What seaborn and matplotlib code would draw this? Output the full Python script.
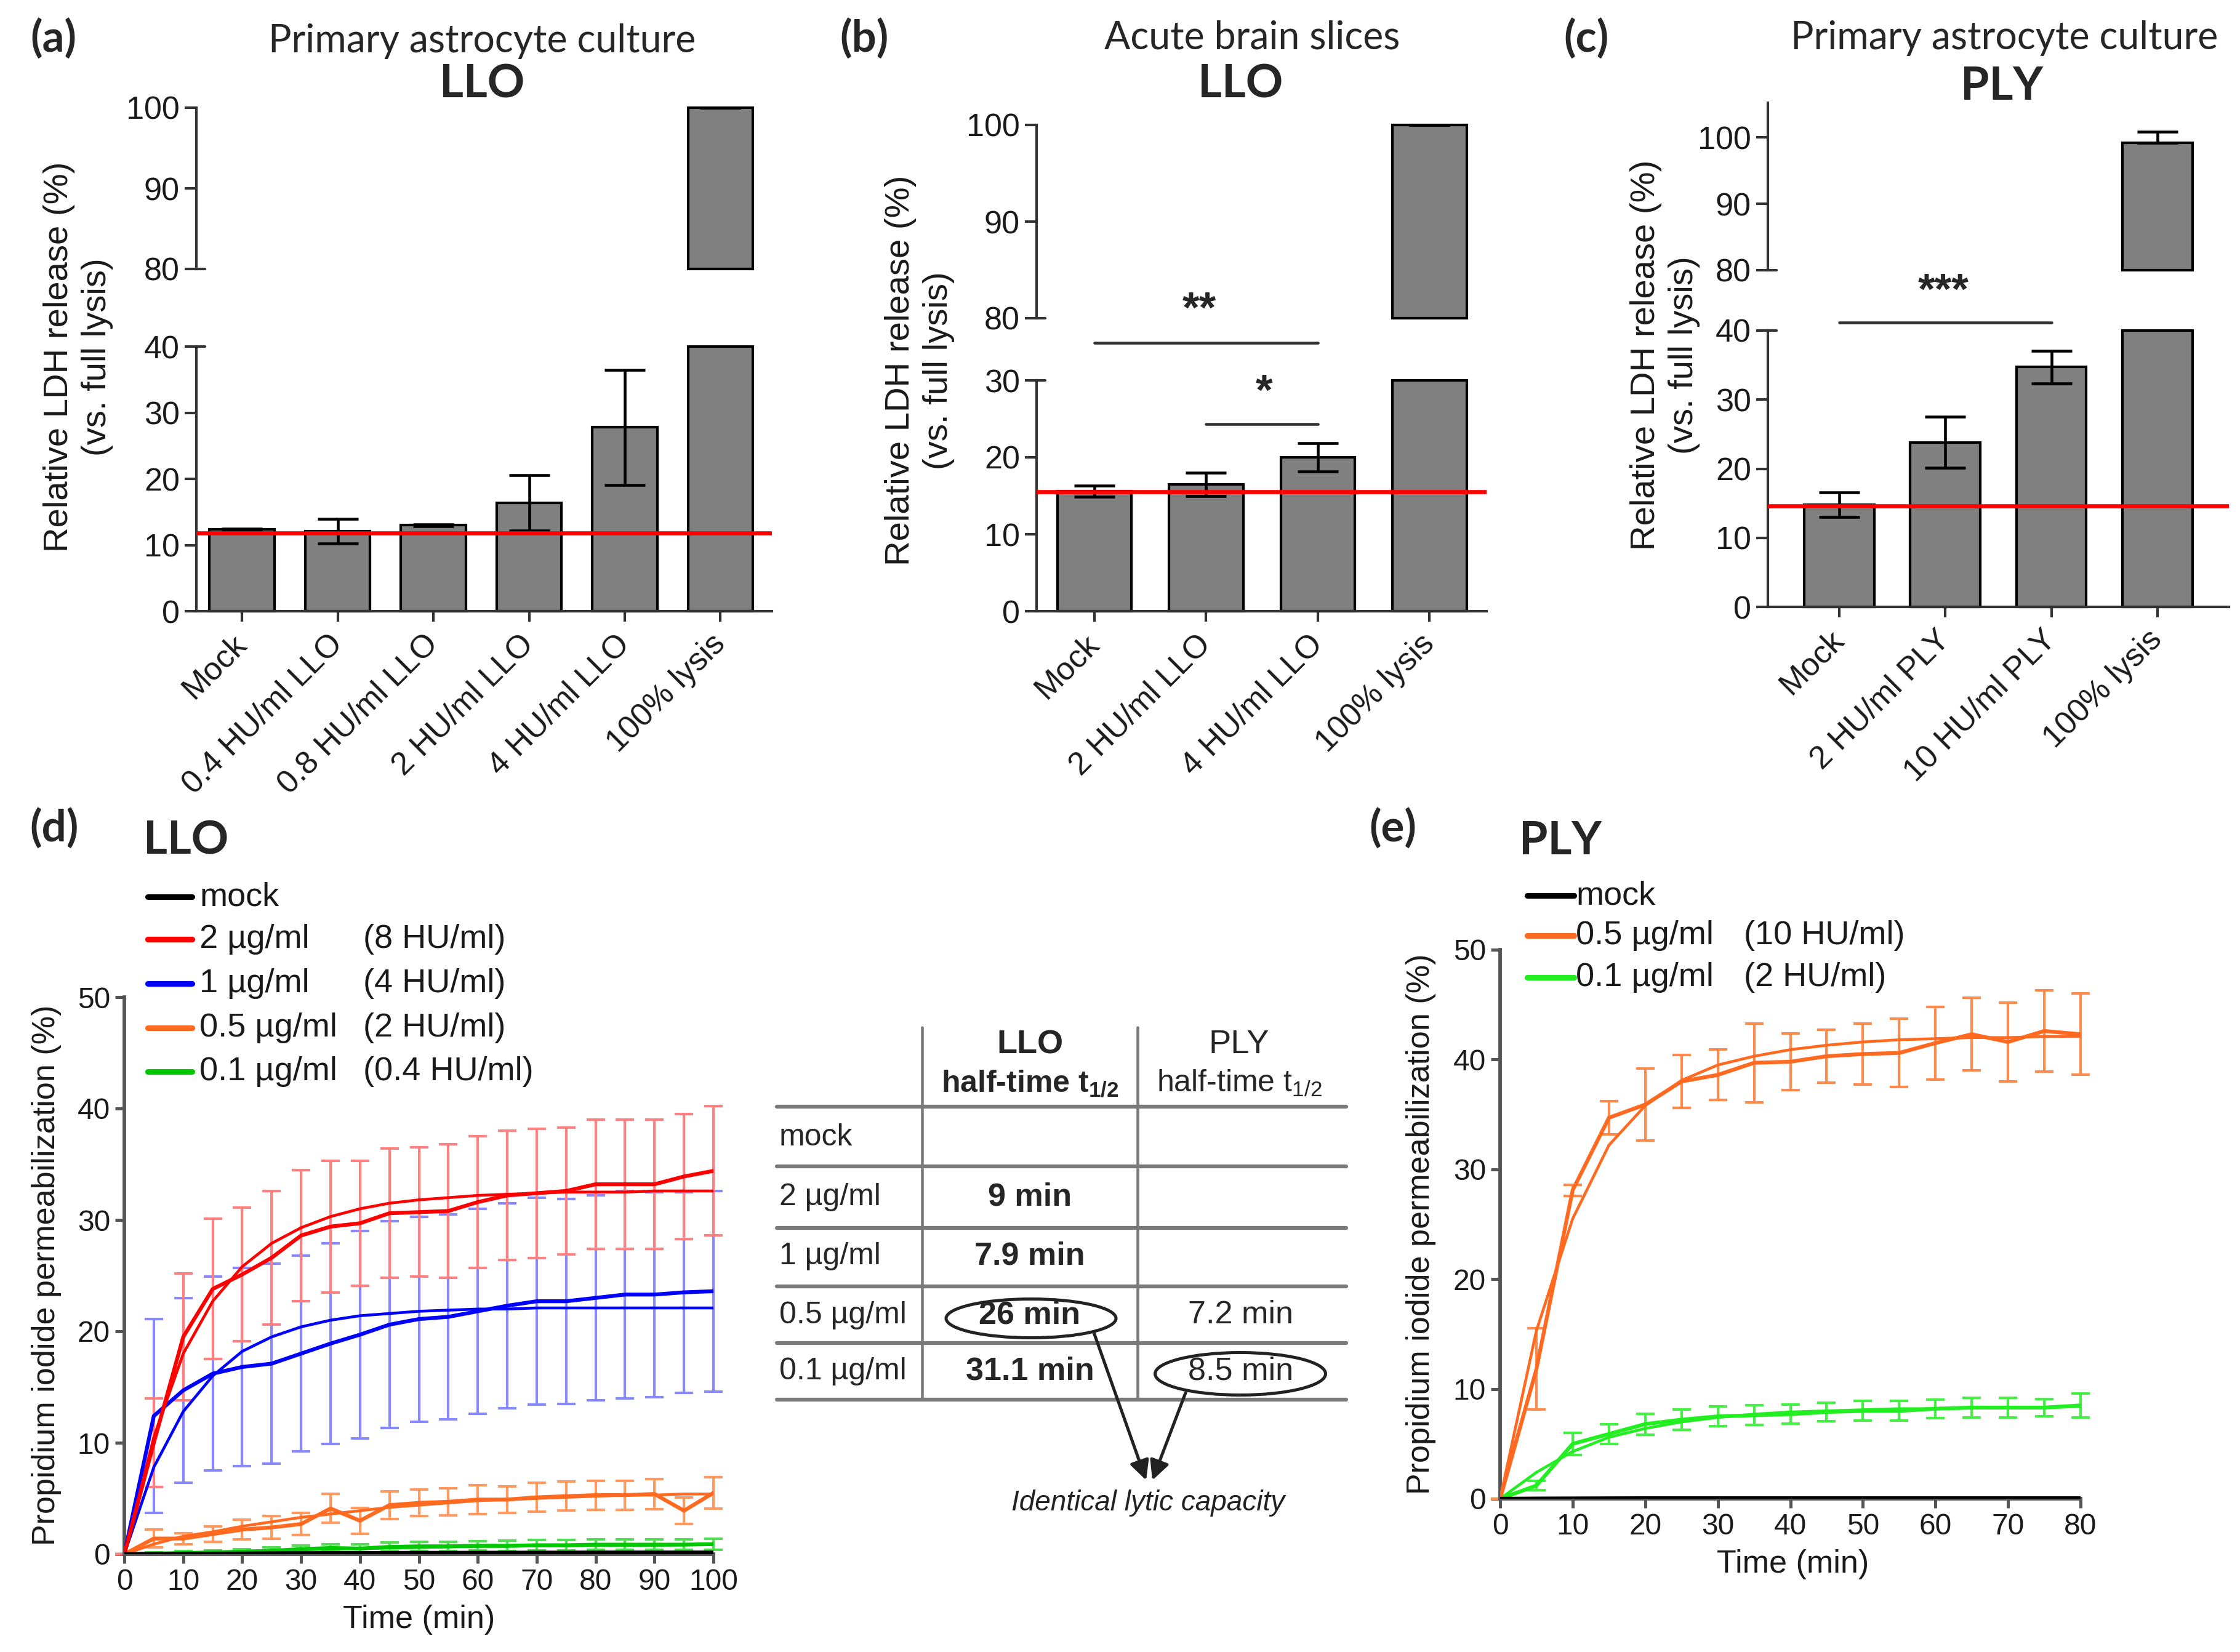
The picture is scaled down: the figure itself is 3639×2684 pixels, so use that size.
import pandas as pd
import matplotlib.pyplot as plt
import seaborn as sns
from matplotlib.lines import Line2D
from matplotlib.patches import Ellipse

W, H = 3639, 2684

# ---------------- data: LDH release (panels a-c) ----------------
a_cats = ['Mock', '0.4 HU/ml LLO', '0.8 HU/ml LLO', '2 HU/ml LLO', '4 HU/ml LLO', '100% lysis']
a_vals = [12.4, 12.1, 13.0, 16.4, 27.8, 100.0]
a_err_lo = [0.1, 1.9, 0.15, 4.2, 8.7, 0.0]
a_err_hi = [0.1, 1.9, 0.15, 4.2, 8.7, 0.0]
a_base = 11.8

b_cats = ['Mock', '2 HU/ml LLO', '4 HU/ml LLO', '100% lysis']
b_vals = [15.6, 16.5, 20.0, 100.0]
b_err_lo = [0.7, 1.5, 1.85, 0.0]
b_err_hi = [0.7, 1.5, 1.85, 0.0]
b_base = 15.5

c_cats = ['Mock', '2 HU/ml PLY', '10 HU/ml PLY', '100% lysis']
c_vals = [14.8, 23.8, 34.7, 99.2]
c_err_lo = [1.8, 3.7, 2.4, 0.0]
c_err_hi = [1.8, 3.7, 2.4, 1.6]
c_base = 14.6

# ---------------- data: PI kinetics LLO (panel d) ----------------
t_d = [0, 5, 10, 15, 20, 25, 30, 35, 40, 45, 50, 55, 60, 65, 70, 75, 80, 85, 90, 95, 100]
llo_mock = [0, 0.02, 0.03, 0.05, 0.06, 0.08, 0.09, 0.1, 0.1, 0.11, 0.12, 0.12, 0.13, 0.13, 0.14, 0.14, 0.15, 0.15, 0.15, 0.15, 0.15]
llo_2 = [0, 10.0, 19.5, 23.8, 25.1, 26.6, 28.6, 29.4, 29.7, 30.6, 30.7, 30.8, 31.6, 32.2, 32.4, 32.6, 33.2, 33.2, 33.2, 33.9, 34.4]
llo_2_sd = [0, 4.0, 5.7, 6.3, 6.0, 6.0, 5.9, 5.9, 5.6, 5.8, 5.8, 6.0, 5.9, 5.8, 5.8, 5.7, 5.8, 5.8, 5.8, 5.6, 5.8]
llo_2_fit = [0, 10.5, 18.0, 22.7, 25.8, 27.9, 29.3, 30.3, 31.0, 31.5, 31.8, 32.0, 32.2, 32.3, 32.4, 32.5, 32.5, 32.5, 32.6, 32.6, 32.6]
llo_1 = [0, 12.4, 14.7, 16.2, 16.8, 17.1, 18.0, 18.9, 19.7, 20.6, 21.1, 21.3, 21.8, 22.3, 22.7, 22.7, 23.0, 23.3, 23.3, 23.5, 23.6]
llo_1_sd = [0, 8.7, 8.3, 8.7, 8.9, 9.0, 8.8, 9.0, 9.3, 9.3, 9.2, 9.2, 9.2, 9.2, 9.3, 9.2, 9.2, 9.3, 9.2, 9.0, 9.0]
llo_1_fit = [0, 7.8, 12.8, 16.0, 18.2, 19.5, 20.4, 21.0, 21.4, 21.6, 21.8, 21.9, 22.0, 22.0, 22.1, 22.1, 22.1, 22.1, 22.1, 22.1, 22.1]
llo_05 = [0, 1.4, 1.4, 1.8, 2.2, 2.4, 2.7, 4.1, 3.0, 4.4, 4.6, 4.7, 4.9, 4.9, 5.1, 5.2, 5.3, 5.3, 5.4, 3.9, 5.5]
llo_05_sd = [0, 0.8, 0.5, 0.7, 0.9, 1.0, 1.0, 1.3, 1.15, 1.25, 1.2, 1.2, 1.3, 1.2, 1.3, 1.3, 1.3, 1.3, 1.35, 1.2, 1.4]
llo_05_fit = [0, 0.9, 1.6, 2.0, 2.5, 2.9, 3.3, 3.6, 3.9, 4.2, 4.4, 4.6, 4.8, 4.9, 5.0, 5.1, 5.2, 5.3, 5.3, 5.4, 5.4]
llo_01 = [0, 0.05, 0.1, 0.15, 0.2, 0.3, 0.45, 0.55, 0.5, 0.65, 0.7, 0.7, 0.75, 0.75, 0.8, 0.8, 0.85, 0.85, 0.85, 0.85, 0.9]
llo_01_sd = [0, 0.1, 0.15, 0.2, 0.25, 0.3, 0.3, 0.35, 0.4, 0.4, 0.4, 0.4, 0.4, 0.45, 0.45, 0.45, 0.45, 0.45, 0.45, 0.45, 0.5]
llo_01_fit = [0, 0.05, 0.1, 0.2, 0.25, 0.35, 0.4, 0.45, 0.5, 0.55, 0.6, 0.65, 0.7, 0.7, 0.75, 0.75, 0.8, 0.8, 0.8, 0.85, 0.85]

# ---------------- data: PI kinetics PLY (panel e) ----------------
t_e = [0, 5, 10, 15, 20, 25, 30, 35, 40, 45, 50, 55, 60, 65, 70, 75, 80]
ply_mock = [0, 0.02, 0.03, 0.04, 0.05, 0.05, 0.05, 0.05, 0.05, 0.05, 0.05, 0.05, 0.05, 0.05, 0.05, 0.05, 0.05]
ply_05 = [0, 11.8, 28.1, 34.7, 35.9, 38.0, 38.6, 39.7, 39.8, 40.3, 40.5, 40.6, 41.5, 42.3, 41.6, 42.6, 42.3]
ply_05_sd = [0, 3.7, 0.5, 1.5, 3.3, 2.4, 2.3, 3.6, 2.6, 2.4, 2.8, 3.1, 3.3, 3.3, 3.6, 3.7, 3.7]
ply_05_fit = [0, 15.3, 25.5, 32.2, 35.8, 38.1, 39.5, 40.3, 40.9, 41.3, 41.6, 41.8, 41.9, 42.0, 42.0, 42.1, 42.1]
ply_01 = [0, 1.2, 5.0, 5.9, 6.8, 7.2, 7.5, 7.6, 7.7, 7.9, 8.0, 8.0, 8.2, 8.3, 8.3, 8.3, 8.5]
ply_01_sd = [0, 0.4, 1.0, 0.9, 0.95, 0.9, 0.9, 0.9, 0.85, 0.85, 0.9, 0.9, 0.85, 0.9, 0.9, 0.8, 1.1]
ply_01_fit = [0, 2.4, 4.3, 5.6, 6.4, 7.0, 7.4, 7.7, 7.9, 8.0, 8.1, 8.2, 8.2, 8.3, 8.3, 8.3, 8.4]

# ---------------- table ----------------
tab_rows = ['mock', '2 µg/ml', '1 µg/ml', '0.5 µg/ml', '0.1 µg/ml']
tab_llo = ['', '9 min', '7.9 min', '26 min', '31.1 min']
tab_ply = ['', '', '', '7.2 min', '8.5 min']

leg_d_conc = ['mock', '2 µg/ml', '1 µg/ml', '0.5 µg/ml', '0.1 µg/ml']
leg_d_hu = ['', '(8 HU/ml)', '(4 HU/ml)', '(2 HU/ml)', '(0.4 HU/ml)']
leg_e_conc = ['mock', '0.5 µg/ml', '0.1 µg/ml']
leg_e_hu = ['', '(10 HU/ml)', '(2 HU/ml)']

# ---------------- style ----------------
sns.set_theme(style='ticks')
plt.rcParams['font.family'] = ['Liberation Sans', 'DejaVu Sans']
plt.rcParams['axes.facecolor'] = 'none'
plt.rcParams['mathtext.fontset'] = 'custom'
plt.rcParams['mathtext.rm'] = 'Liberation Sans'
plt.rcParams['mathtext.bf'] = 'Liberation Sans:bold'
plt.rcParams['mathtext.it'] = 'Liberation Sans:italic'
TITLE_FONT = ['Lato', 'DejaVu Sans']
BAR = '#808080'
SPINE = '#333333'
RED, BLUE, ORANGE, GREEN = '#FF0000', '#0000FF', '#FF6A20', '#00C800'

fig = plt.figure(figsize=(W / 300, H / 300), dpi=300)


def px(x, y):
    return x / W, 1 - y / H


def rect(x0, x1, y_bottom, y_top):
    return [x0 / W, 1 - y_bottom / H, (x1 - x0) / W, (y_bottom - y_top) / H]


def bar_panel(x0, x1, y0, ylo_top, yhi_bot, yhi_top, cats, vals, elo, ehi, base,
              lo_lim, hi_lim, lo_ticks, width, xlim):
    ax_lo = fig.add_axes(rect(x0, x1, y0, ylo_top))
    ax_hi = fig.add_axes(rect(x0, x1, yhi_bot, yhi_top))
    df = pd.DataFrame({'cond': cats, 'val': vals})
    for ax in (ax_lo, ax_hi):
        ax.set_facecolor('none')
        sns.barplot(data=df, x='cond', y='val', color=BAR, saturation=1, edgecolor='black',
                    linewidth=1.0, width=width, errorbar=None, ax=ax)
        ax.errorbar(range(len(cats)), vals, yerr=[elo, ehi], fmt='none', ecolor='black',
                    elinewidth=1.1, capsize=8, capthick=1.1, zorder=4)
        ax.set_xlim(xlim)
        ax.set_xlabel('')
        ax.set_ylabel('')
        for s in ('top', 'right'):
            ax.spines[s].set_visible(False)
        ax.spines['left'].set_color(SPINE)
        ax.spines['left'].set_linewidth(1.0)
        ax.tick_params(axis='y', direction='out', length=4.5, width=1.0, color=SPINE,
                       labelsize=12.5, pad=2, labelcolor='#1a1a1a')
    ax_lo.set_ylim(lo_lim)
    ax_hi.set_ylim(hi_lim)
    ax_lo.set_yticks(lo_ticks)
    ax_hi.set_yticks([80, 90, 100])
    for p in ax_lo.patches:
        if p.get_height() > lo_lim[1]:
            p.set_height(lo_lim[1])
        p.set_clip_on(False)
    for p in ax_hi.patches:
        h = p.get_height()
        if h <= hi_lim[0]:
            p.set_visible(False)
        else:
            p.set_y(hi_lim[0])
            p.set_height(h - hi_lim[0])
            p.set_clip_on(False)
    ax_hi.spines['bottom'].set_visible(False)
    ax_hi.tick_params(axis='x', bottom=False, labelbottom=False)
    ax_lo.spines['bottom'].set_color(SPINE)
    ax_lo.spines['bottom'].set_linewidth(1.0)
    ax_lo.tick_params(axis='x', direction='out', length=4, width=1.0, color=SPINE, pad=7)
    ax_lo.set_xticks(range(len(cats)))
    ax_lo.set_xticklabels(cats, rotation=45, ha='right', va='center', rotation_mode='anchor',
                          fontsize=12.5, color='#1a1a1a')
    ax_lo.axhline(base, color='#FF0000', lw=1.6, zorder=5)
    # break marks crossing the axis
    inner = 14 / (x1 - x0)
    ax_lo.plot([0, inner], [lo_lim[1]] * 2, transform=ax_lo.get_yaxis_transform(), color=SPINE,
               lw=1.0, clip_on=False)
    ax_hi.plot([0, inner], [hi_lim[0]] * 2, transform=ax_hi.get_yaxis_transform(), color=SPINE,
               lw=1.0, clip_on=False)
    return ax_lo, ax_hi


def ylabel2(x, y):
    fig.text(*px(x, y), 'Relative LDH release (%)\n(vs. full lysis)', rotation=90, ha='center',
             va='center', multialignment='center', fontsize=13.5, linespacing=1.25, color='#1a1a1a')


# ---------------- panel a ----------------
a_lo, a_hi = bar_panel(319, 1254, 993, 563, 437, 175, a_cats, a_vals, a_err_lo, a_err_hi, a_base,
                       (0, 40), (80, 100), [0, 10, 20, 30, 40], 0.68, (-0.476, 5.537))
ylabel2(127, 580)
fig.text(*px(87, 62), '(a)', fontsize=17, fontweight='bold', ha='center', va='center', family=TITLE_FONT)
fig.text(*px(783, 67), 'Primary astrocyte culture', fontsize=15, ha='center', va='center', family=TITLE_FONT)
fig.text(*px(783, 137), 'LLO', fontsize=18, fontweight='bold', ha='center', va='center', family=TITLE_FONT)

# ---------------- panel b ----------------
b_lo, b_hi = bar_panel(1684, 2415, 993, 618, 517, 203, b_cats, b_vals, b_err_lo, b_err_hi, b_base,
                       (0, 30), (80, 100), [0, 10, 20, 30], 0.665, (-0.518, 3.51))
ylabel2(1494, 602)
b_lo.plot([0, 2], [34.9, 34.9], color='#333333', lw=1.1, clip_on=False)
b_lo.text(0.94, 39.0, '**', ha='center', va='center', fontsize=17, fontweight='bold', clip_on=False)
b_lo.plot([1, 2], [24.3, 24.3], color='#333333', lw=1.1, clip_on=False)
b_lo.text(1.52, 28.3, '*', ha='center', va='center', fontsize=17, fontweight='bold', clip_on=False)
fig.text(*px(1404, 62), '(b)', fontsize=17, fontweight='bold', ha='center', va='center', family=TITLE_FONT)
fig.text(*px(2034, 62), 'Acute brain slices', fontsize=15, ha='center', va='center', family=TITLE_FONT)
fig.text(*px(2015, 137), 'LLO', fontsize=18, fontweight='bold', ha='center', va='center', family=TITLE_FONT)

# ---------------- panel c ----------------
c_lo, c_hi = bar_panel(2872, 3621, 986, 537, 439, 167, c_cats, c_vals, c_err_lo, c_err_hi, c_base,
                       (0, 40), (80, 105.2), [0, 10, 20, 30, 40], 0.66, (-0.673, 3.674))
ylabel2(2705, 577)
c_lo.plot([0, 2], [41.2, 41.2], color='#333333', lw=1.1, clip_on=False)
c_lo.text(0.98, 45.5, '***', ha='center', va='center', fontsize=17, fontweight='bold', clip_on=False)
fig.text(*px(2577, 62), '(c)', fontsize=17, fontweight='bold', ha='center', va='center', family=TITLE_FONT)
fig.text(*px(3256, 62), 'Primary astrocyte culture', fontsize=15, ha='center', va='center', family=TITLE_FONT)
fig.text(*px(3252, 140), 'PLY', fontsize=18, fontweight='bold', ha='center', va='center', family=TITLE_FONT)


# ---------------- kinetics panels ----------------
def kinetics(ax, t, series, xmax, xticks):
    for data, fit, sd, col, ecol in series:
        if sd is not None:
            ax.errorbar(t, data, yerr=sd, fmt='none', ecolor=ecol, elinewidth=1.0, capsize=3.5,
                        capthick=1.0, clip_on=False, zorder=2)
        if fit is not None:
            sns.lineplot(x=t, y=fit, color=col, lw=1.1, ax=ax, zorder=3)
        sns.lineplot(x=t, y=data, color=col, lw=1.5, ax=ax, zorder=3)
    ax.set_xlim(0, xmax)
    ax.set_ylim(0, 50)
    ax.set_xticks(xticks)
    ax.set_yticks([0, 10, 20, 30, 40, 50])
    for s in ('top', 'right'):
        ax.spines[s].set_visible(False)
    for s in ('left', 'bottom'):
        ax.spines[s].set_color('#555555')
        ax.spines[s].set_linewidth(1.4)
    ax.tick_params(direction='out', length=3.5, width=1.2, color='#555555', labelsize=11.5, pad=2,
                   labelcolor='#1a1a1a')
    ax.set_xlabel('')
    ax.set_ylabel('')


ax_d = fig.add_axes(rect(202, 1159, 2525, 1620))
kinetics(ax_d, t_d, [
    (llo_01, llo_01_fit, llo_01_sd, GREEN, '#55DD55'),
    (llo_05, llo_05_fit, llo_05_sd, ORANGE, '#FF9960'),
    (llo_1, llo_1_fit, llo_1_sd, BLUE, '#8888FF'),
    (llo_2, llo_2_fit, llo_2_sd, RED, '#FF8080'),
    (llo_mock, None, None, 'black', 'black'),
], 100, range(0, 101, 10))
fig.text(*px(76, 2072), 'Propidium iodide permeabilization (%)', rotation=90, ha='center', va='center',
         fontsize=12.5, color='#1a1a1a')
fig.text(*px(681, 2631), 'Time (min)', ha='center', va='center', fontsize=12.5, color='#1a1a1a')
fig.text(*px(88, 1345), '(d)', fontsize=17, fontweight='bold', ha='center', va='center', family=TITLE_FONT)
fig.text(*px(302, 1366), 'LLO', fontsize=18, fontweight='bold', ha='center', va='center', family=TITLE_FONT)

ax_e = fig.add_axes(rect(2437, 3380, 2435, 1543))
kinetics(ax_e, t_e, [
    (ply_01, ply_01_fit, ply_01_sd, '#22EE22', '#44F044'),
    (ply_05, ply_05_fit, ply_05_sd, ORANGE, '#FF8A4C'),
    (ply_mock, None, None, 'black', 'black'),
], 80, range(0, 81, 10))
fig.text(*px(2308, 1989), 'Propidium iodide permeabilization (%)', rotation=90, ha='center', va='center',
         fontsize=12.5, color='#1a1a1a')
fig.text(*px(2913, 2542), 'Time (min)', ha='center', va='center', fontsize=12.5, color='#1a1a1a')
fig.text(*px(2263, 1345), '(e)', fontsize=17, fontweight='bold', ha='center', va='center', family=TITLE_FONT)
fig.text(*px(2535, 1367), 'PLY', fontsize=18, fontweight='bold', ha='center', va='center', family=TITLE_FONT)


# ---------------- hand-made legends ----------------
def legend_rows(x_line0, x_line1, x_txt, x_hu, ys, concs, hus, cols):
    for y, c, h, col in zip(ys, concs, hus, cols):
        fig.add_artist(Line2D([x_line0 / W, x_line1 / W], [1 - y / H] * 2, color=col, lw=2.2))
        fig.text(*px(x_txt, y), c, ha='left', va='center', fontsize=13, color='#1a1a1a')
        if h:
            fig.text(*px(x_hu, y), h, ha='left', va='center', fontsize=13, color='#1a1a1a')


legend_rows(240, 312, 324, 590, [1457, 1526, 1598, 1670, 1741], leg_d_conc, leg_d_hu,
            ['black', RED, BLUE, ORANGE, GREEN])
legend_rows(2481, 2557, 2560, 2833, [1455, 1520, 1588], leg_e_conc, leg_e_hu,
            ['black', ORANGE, '#22EE22'])

# ---------------- half-time table ----------------
axt = fig.add_axes([0, 0, 1, 1], zorder=-1)
axt.set_xlim(0, W)
axt.set_ylim(H, 0)
axt.axis('off')
for y in [1798, 1895, 1995, 2090, 2182, 2274]:
    axt.plot([1262, 2187], [y, y], color='#7a7a7a', lw=1.5)
for x in [1498, 1848]:
    axt.plot([x, x], [1669, 2274], color='#7a7a7a', lw=1.1)
axt.text(1673, 1697, 'LLO', ha='center', va='center', fontsize=13, fontweight='bold')
axt.text(1673, 1760, r'half-time t$_{\mathbf{1/2}}$', ha='center', va='center', fontsize=12, fontweight='bold')
axt.text(2013, 1697, 'PLY', ha='center', va='center', fontsize=13)
axt.text(2013, 1760, r'half-time t$_{\mathrm{1/2}}$', ha='center', va='center', fontsize=12)
row_y = [1848, 1945, 2041, 2137, 2228]
for y, r, l, p in zip(row_y, tab_rows, tab_llo, tab_ply):
    axt.text(1266, y, r, ha='left', va='center', fontsize=12)
    axt.text(1673, y, l, ha='center', va='center', fontsize=12.5, fontweight='bold')
    axt.text(2016, y, p, ha='center', va='center', fontsize=12.5)
axt.add_patch(Ellipse((1675, 2142), 276, 63, fill=False, ec='#222222', lw=1.2))
axt.add_patch(Ellipse((2015, 2232), 277, 69, fill=False, ec='#222222', lw=1.2))
axt.annotate('', xy=(1862, 2405), xytext=(1777, 2165),
             arrowprops=dict(arrowstyle='-|>', color='#222222', lw=1.2, mutation_scale=16, shrinkA=0, shrinkB=0))
axt.annotate('', xy=(1872, 2405), xytext=(1926, 2263),
             arrowprops=dict(arrowstyle='-|>', color='#222222', lw=1.2, mutation_scale=16, shrinkA=0, shrinkB=0))
axt.text(1865, 2442, 'Identical lytic capacity', ha='center', va='center', fontsize=11, style='italic',
         color='#222222')

fig.savefig('out.png', dpi=300)
